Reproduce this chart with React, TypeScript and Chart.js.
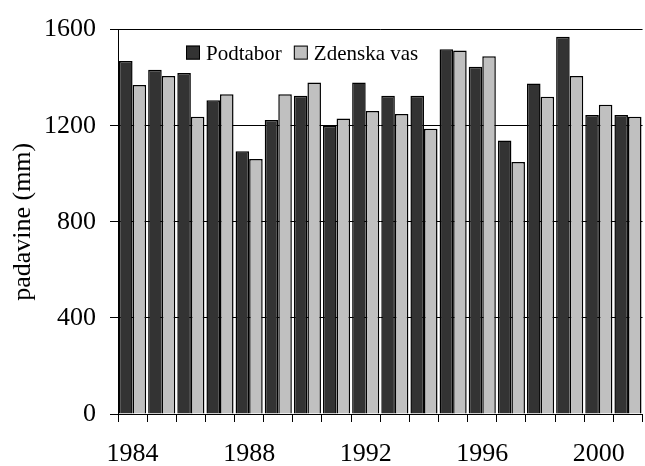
import React, { useEffect, useRef } from "react";
import { Chart, registerables } from "chart.js";

Chart.register(...registerables);

const years = [
  "1984", "1985", "1986", "1987", "1988", "1989", "1990", "1991", "1992",
  "1993", "1994", "1995", "1996", "1997", "1998", "1999", "2000", "2001",
];
const podtabor = [
  1469, 1433, 1419, 1306, 1094, 1224, 1325, 1200, 1380,
  1325, 1325, 1518, 1445, 1138, 1376, 1570, 1245, 1245,
];
const zdenskaVas = [
  1369, 1407, 1237, 1331, 1061, 1331, 1380, 1230, 1261,
  1249, 1187, 1513, 1489, 1049, 1320, 1407, 1287, 1237,
];
const yTicks = [0, 400, 800, 1200, 1600];

const FONT = "'Liberation Serif', 'Times New Roman', serif";

const legendPlugin = {
  id: "customLegend",
  afterDraw(chart: any) {
    const { ctx, chartArea } = chart;
    ctx.save();
    ctx.font = `21px ${FONT}`;
    ctx.textBaseline = "alphabetic";
    let x = chartArea.left + 68;
    const top = chartArea.top + 16;
    const box = 14;
    chart.data.datasets.forEach((ds: any) => {
      ctx.fillStyle = ds.backgroundColor;
      ctx.fillRect(x, top, box, box);
      ctx.strokeStyle = "#000";
      ctx.lineWidth = 1;
      ctx.strokeRect(x + 0.5, top + 0.5, box - 1, box - 1);
      ctx.fillStyle = "#000";
      ctx.fillText(ds.label, x + box + 6, top + 14);
      x += box + 6 + ctx.measureText(ds.label).width + 12;
    });
    ctx.restore();
  },
};

export default function App() {
  const ref = useRef<HTMLCanvasElement>(null);
  useEffect(() => {
    if (!ref.current) return;
    const chart = new Chart(ref.current, {
      type: "bar",
      data: {
        labels: years,
        datasets: [
          {
            label: "Podtabor",
            data: podtabor,
            backgroundColor: "#333333",
            borderColor: "#000000",
            borderWidth: 1.5,
            categoryPercentage: 0.93,
            barPercentage: 1,
          },
          {
            label: "Zdenska vas",
            data: zdenskaVas,
            backgroundColor: "#c0c0c0",
            borderColor: "#000000",
            borderWidth: 1.5,
            categoryPercentage: 0.93,
            barPercentage: 1,
          },
        ],
      },
      options: {
        animation: false,
        responsive: false,
        maintainAspectRatio: false,
        layout: { padding: { top: 22, right: 1, left: 0, bottom: 0 } },
        plugins: {
          legend: { display: false },
          tooltip: { enabled: false },
        },
        scales: {
          x: {
            offset: true,
            grid: {
              offset: true,
              drawOnChartArea: false,
              drawTicks: true,
              tickLength: 8,
              tickColor: "#000",
            },
            border: { color: "#000", width: 1 },
            ticks: {
              autoSkip: false,
              maxRotation: 0,
              padding: 17,
              color: "#000",
              font: { family: FONT, size: 26 },
              callback: (_v: any, i: number) => (i % 4 === 0 ? years[i] : ""),
            },
            afterFit: (scale: any) => {
              scale.height = 52;
            },
          },
          y: {
            min: 0,
            max: 1600,
            afterBuildTicks: (scale: any) => {
              scale.ticks = yTicks.map((v) => ({ value: v }));
            },
            grid: {
              color: "#000",
              lineWidth: 1,
              drawTicks: true,
              tickLength: 8,
              tickColor: "#000",
            },
            border: { color: "#000", width: 1 },
            ticks: {
              padding: 14,
              color: "#000",
              font: { family: FONT, size: 26 },
              callback: (v: any) => String(v),
            },
            title: {
              display: true,
              text: "padavine (mm)",
              color: "#000",
              font: { family: FONT, size: 26 },
              padding: { top: 8, bottom: 0 },
            },
            afterFit: (scale: any) => {
              scale.width = 118;
            },
          },
        },
      },
      plugins: [legendPlugin],
    });
    return () => chart.destroy();
  }, []);
  return (
    <div style={{ position: "absolute", left: 0, top: 0, width: 645, height: 466, background: "#fff" }}>
      <canvas ref={ref} width={645} height={466} />
    </div>
  );
}
